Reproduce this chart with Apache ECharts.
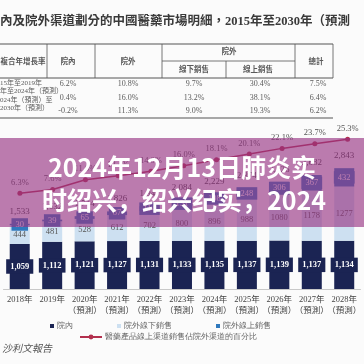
<!DOCTYPE html>
<html><head><meta charset="utf-8">
<script src="https://cdn.jsdelivr.net/npm/echarts@6/dist/echarts.min.js"></script>
<style>html,body{margin:0;padding:0;background:#fbfbfb}#c{width:364px;height:364px}</style>
</head><body><div id="c"></div>
<script>
const years = ['2018年','2019年','2020年','2021年','2022年','2023年','2024年','2025年','2026年','2027年','2028年'];
const isForecast = [false,false,true,true,true,true,true,true,true,true,true];
const inHospital = [1059,1112,1121,1127,1131,1133,1135,1137,1139,1137,1134];
const offlineOut = [444,481,528,612,702,800,896,988,1080,1178,1277];
const onlineOut = [30,39,65,87,114,151,198,248,306,367,432];
const totalLabels = ['1,533','1,632','1,714','1,826','1,947','2,084','2,229','2,374','2,526','2,682','2,843'];
const onlineShare = [6.3,7.6,11.0,12.4,14.0,16.0,18.1,20.1,22.1,23.7,25.3];
const seriesNames = ['院內','院外線下銷售','院外線上銷售','醫藥產品線上渠道銷售佔院外渠道的百分比'];

const titleText = '內及院外渠道劃分的中國醫藥市場明細，2015年至2030年（預測';
const tableHeader = ['複合年增長率','院內','院外','院外','線下銷售','線上銷售','總計'];
const tableRowLabels = ['15年至2019年','年至2024年（預測）','024年（預測）至','2030年（預測）'];
const cagrIn = ['6.2%','0.4%','-0.2%'];
const cagrOut = ['10.8%','16.0%','11.3%'];
const cagrOffline = ['9.7%','13.2%','9.0%'];
const cagrOnline = ['30.4%','38.1%','19.3%'];
const cagrTotal = ['7.5%','6.4%','6.2%'];
const overlayLines = ['2024年12月13日肺炎实','时绍兴，绍兴纪实，2024'];
const sourceText = '沙利文報告';

const SERIF = "'Liberation Serif','Noto Sans CJK TC',serif";
const TXT = '#5a5a5a';
const chart = echarts.init(document.getElementById('c'), null, {renderer:'canvas'});

const g = [];
function t(x,y,text,opt){ g.push(Object.assign({type:'text',x:x,y:y,z:50,style:Object.assign({text:text,fill:TXT,font:'8px '+SERIF,textAlign:'center',textVerticalAlign:'middle'},opt||{})})); }
function ln(x1,y1,x2,y2,w){ g.push({type:'line',z:50,shape:{x1:x1,y1:y1,x2:x2,y2:y2},style:{stroke:'#555',lineWidth:w||1}}); }
// title
t(0,22,titleText,{font:'bold 12.5px '+SERIF,textAlign:'left',fill:'#3a3a3a'});
// table lines
ln(0,44,333,44,1.2); ln(162,61,295,61,0.8); ln(0,78,333,78,1); ln(0,118,333,118,1.2);
[47,95,162,295,333].forEach(x=>ln(x,44,x,78,0.8));
ln(226,61,226,78,0.8);
// headers
t(23,62,tableHeader[0],{font:'bold 7.5px '+SERIF});
t(68,62,tableHeader[1],{font:'bold 7.5px '+SERIF});
t(128,62,tableHeader[2],{font:'bold 7.5px '+SERIF});
t(229,52,tableHeader[3],{font:'bold 7.5px '+SERIF});
t(194,70,tableHeader[4],{font:'bold 7.5px '+SERIF});
t(258,70,tableHeader[5],{font:'bold 7.5px '+SERIF});
t(316,62,tableHeader[6],{font:'bold 7.5px '+SERIF});
const rowY=[84,98,111];
tableRowLabels.forEach((s,i)=>t(0,[83,91,100,108][i],s,{textAlign:'left',font:'7px '+SERIF}));
[[68,cagrIn],[128,cagrOut],[194,cagrOffline],[260,cagrOnline],[318,cagrTotal]].forEach(([x,arr])=>arr.forEach((v,i)=>t(x,rowY[i],v,{font:'8px '+SERIF})));
// source
t(2,349,sourceText,{textAlign:'left',font:'italic 10px '+SERIF,fill:'#555'});
// overlay
g.push({type:'rect',z:100,shape:{x:0,y:138,width:364,height:89},style:{fill:'rgba(150,50,130,0.64)'}});
g.push({type:'text',z:101,x:182,y:167,style:{text:overlayLines[0],fill:'#fff',font:"bold 25px 'Noto Sans CJK SC',sans-serif",textAlign:'center',textVerticalAlign:'middle'}});
g.push({type:'text',z:101,x:184,y:200,style:{text:overlayLines[1],fill:'#fff',font:"bold 25px 'Noto Sans CJK SC',sans-serif",textAlign:'center',textVerticalAlign:'middle'}});

const NAVY='#1b2453', LIGHT='#cde0f1', BLUE='#3079bd', RED='#b3304e';
chart.setOption({
  animation:false,
  backgroundColor:'#fbfbfb',
  graphic:{z:100,elements:g},
  grid:[{left:3.5,right:-1.5,top:161.5,bottom:75},{left:3.5,right:-1.5,top:126,bottom:153}],
  xAxis:[{type:'category',data:years,gridIndex:0,axisTick:{show:false},axisLine:{lineStyle:{color:'#c8c8c8'}},
    axisLabel:{interval:0,margin:5,fontSize:8.5,lineHeight:11,color:'#444',fontFamily:SERIF,
      formatter:(v,i)=>isForecast[i]?v+'\n（預測）':v}},
    {type:'category',data:years,gridIndex:1,show:false}],
  yAxis:[{type:'value',gridIndex:0,min:0,max:3000,show:false},{type:'value',gridIndex:1,min:0,max:30,show:false}],
  legend:[{data:seriesNames.slice(0,3),left:45,top:317,itemWidth:4,itemHeight:4,itemGap:44,icon:'rect',textStyle:{fontSize:8,color:'#666',padding:[0,0,0,-2]}},
    {data:[seriesNames[3]],left:74,top:328,itemWidth:22,itemHeight:6,textStyle:{fontSize:8,color:'#666',padding:[0,0,0,-2]}}],
  series:[
    {name:seriesNames[0],type:'bar',stack:'s',barWidth:20,data:inHospital,itemStyle:{color:NAVY},
      label:{show:true,position:'inside',formatter:p=>p.value.toLocaleString('en-US'),color:'#fff',fontSize:8.5,fontWeight:'bold',fontFamily:SERIF,backgroundColor:NAVY,padding:[3,4]}},
    {name:seriesNames[1],type:'bar',stack:'s',barWidth:20,data:offlineOut,itemStyle:{color:LIGHT},
      label:{show:true,position:'inside',color:'#555',fontSize:8.5,fontFamily:SERIF}},
    {name:seriesNames[2],type:'bar',stack:'s',barWidth:20,data:onlineOut,itemStyle:{color:BLUE},
      label:{show:true,position:'inside',color:'#fff',fontSize:8.5,fontFamily:SERIF,backgroundColor:BLUE,padding:[2,4]}},
    {type:'bar',stack:'s',barWidth:20,data:totalLabels.map(()=>0),itemStyle:{color:'transparent'},silent:true,
      label:{show:true,position:'top',distance:8,formatter:p=>totalLabels[p.dataIndex],color:'#444',fontSize:9,fontFamily:SERIF}},
    {name:seriesNames[3],type:'line',xAxisIndex:1,yAxisIndex:1,data:onlineShare,symbol:'circle',symbolSize:5,
      itemStyle:{color:RED},lineStyle:{color:RED,width:1.5},
      label:{show:true,position:'top',distance:4,formatter:p=>p.value.toFixed(1)+'%',color:'#555',fontSize:8.5,fontFamily:SERIF}}
  ]
});
</script></body></html>
